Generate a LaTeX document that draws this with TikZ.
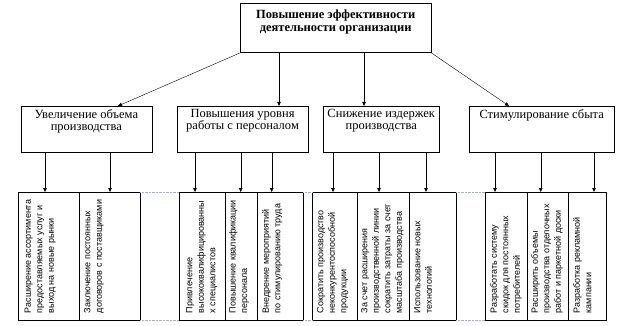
\documentclass[tikz,border=0pt]{standalone}
\usepackage{fontspec}
\setmainfont{Liberation Serif}
\newfontfamily\cellfont{Liberation Sans}
\usetikzlibrary{arrows.meta,positioning}
\definecolor{gridblue}{RGB}{150,180,225}

\begin{document}
\begin{tikzpicture}[x=1pt, y=-1pt, every node/.style={inner sep=0pt}]
\tikzset{box/.style={draw, anchor=north west, minimum height=46pt}}
\tikzset{boxtext/.style={anchor=north, align=center, font=\fontsize{12.5}{12}\selectfont}}
\tikzset{arr/.style={-{Triangle[length=4pt, width=3.5pt]}}}
\tikzset{cell/.style={draw, anchor=north west, minimum height=128pt}}
\tikzset{celltext/.style={rotate=90, anchor=north west, align=left, font=\cellfont\fontsize{9}{11.5}\selectfont}}
\tikzset{grid/.style={gridblue, densely dotted}}
\useasboundingbox (0,0) rectangle (618,326);
% top level
\node[box, minimum width=191pt, minimum height=49.5pt] (top) at (240,3) {};
\node[anchor=north, align=center, font=\bfseries\fontsize{12.5}{12.5}\selectfont] (toptext) at ([yshift=-7pt]top.north) {Повышение эффективности\\деятельности организации};
% second level
\node[box, minimum width=131pt] (b1) at (20.7,106) {};
\node[box, minimum width=131.3pt] (b2) at (176.7,106) {};
\node[box, minimum width=116pt] (b3) at (323,106) {};
\node[box, minimum width=145pt] (b4) at (469,106) {};
\node[boxtext] (b1t) at ([yshift=-3pt]b1.north) {Увеличение объема\\производства};
\node[boxtext] (b2t) at ([yshift=-3pt]b2.north) {Повышения уровня\\работы с персоналом};
\node[boxtext] (b3t) at ([yshift=-3pt]b3.north) {Снижение издержек\\производства};
\node[boxtext] (b4t) at ([yshift=-3pt]b4.north) {Стимулирование сбыта};
\draw[arr] (top.south west) -- (b1.north -| 118,0);
\draw[arr] (top.south -| 279,0) -- (b2.north -| 279,0);
\draw[arr] (top.south -| 364,0) -- (b3.north -| 364,0);
\draw[arr] (top.south east) -- (b4.north -| 509,0);
% third level
\foreach \n/\xa/\xb in {c1a/17.5/79, c1b/79/140,
    c2a/179/225, c2b/225/257, c2c/257/303,
    c3a/312/357, c3b/357/409, c3c/409/456,
    c4a/485/527, c4b/527/568, c4c/568/606}
  \node[cell, minimum width={(\xb-\xa)*1pt}] (\n) at (\xa,192) {};
\node[celltext] (c1at) at ([shift={(7pt,7pt)}]c1a.south west) {Расширение ассортимента\\предоставляемых услуг и\\выход на новые рынки};
\node[celltext] (c1bt) at ([shift={(5pt,7pt)}]c1b.south west) {Заключение постоянных\\договоров с поставщиками};
\node[celltext] (c2at) at ([shift={(7pt,7pt)}]c2a.south west) {Привлечение\\высококвалифицированны\\х специалистов};
\node[celltext] (c2bt) at ([shift={(4pt,7pt)}]c2b.south west) {Повышение квалификации\\персонала};
\node[celltext] (c2ct) at ([shift={(5pt,7pt)}]c2c.south west) {Внедрение мероприятий\\по стимулированию труда};
\node[celltext] (c3at) at ([shift={(5pt,7pt)}]c3a.south west) {Сократить производство\\неконкурентоспособной\\продукции};
\node[celltext] (c3bt) at ([shift={(4pt,7pt)}]c3b.south west) {За счет расширения\\производственной линии\\сократить затраты за счет\\масштаба производства};
\node[celltext] (c3ct) at ([shift={(5pt,7pt)}]c3c.south west) {Использование новых\\технологий};
\node[celltext] (c4at) at ([shift={(5pt,7pt)}]c4a.south west) {Разработать систему\\скидок для постоянных\\потребителей};
\node[celltext] (c4bt) at ([shift={(4pt,7pt)}]c4b.south west) {Расширить объемы\\производства отделочных\\работ и паркетной доски};
\node[celltext] (c4ct) at ([shift={(5pt,7pt)}]c4c.south west) {Разработка рекламной\\кампании};
\foreach \s/\d/\x in {b1/c1a/45, b1/c1b/110,
    b2/c2a/195, b2/c2b/240.7, b2/c2c/271.7,
    b3/c3a/333, b3/c3b/379, b3/c3c/426,
    b4/c4a/495, b4/c4b/540.7, b4/c4c/594}
  \draw[arr] (\s.south -| \x,0) -- (\d.north -| \x,0);
% table grid between groups
\foreach \l/\r in {c1b/c2a, c2c/c3a, c3c/c4a} {
  \draw[grid] (\l.north east) -- (\r.north west);
  \draw[grid] (\l.south east) -- (\r.south west);
}
\end{tikzpicture}
\end{document}
